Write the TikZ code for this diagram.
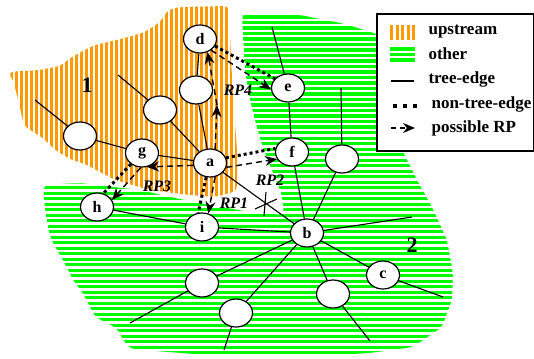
\documentclass[tikz,border=0pt]{standalone}
\usepackage{fontspec}
\setmainfont{Liberation Serif}
\usetikzlibrary{shapes.geometric,arrows.meta}
\definecolor{upcol}{RGB}{255,153,0}
\definecolor{othercol}{RGB}{0,250,0}
\tikzset{every picture/.style={line width=1.1pt}}
\tikzset{
  vertex/.style={ellipse,draw,line width=1.2pt,fill=white,minimum width=33pt,minimum height=28pt,inner sep=0pt,font=\fontsize{16}{16}\selectfont\bfseries},
  tree/.style={line width=1.1pt},
  nontree/.style={line width=3pt,dash pattern=on 3pt off 3pt},
  rp/.style={line width=1.4pt,dash pattern=on 6pt off 4pt,-{Stealth[length=12pt,width=10pt]}},
  rplabel/.style={font=\fontsize{16}{16}\selectfont\bfseries\itshape},
  region/.style={font=\fontsize{22}{22}\selectfont\bfseries},
  legtext/.style={anchor=west,inner sep=0pt,font=\fontsize{17}{17}\selectfont\bfseries},
}

\begin{document}
\begin{tikzpicture}[x=1pt,y=-1pt]
    \useasboundingbox (0,0) rectangle (534,358);
    % upstream area
    \begin{scope}
        \clip[rounded corners=5pt] (8,72) -- (40,70) -- (60,66) -- (75,55) -- (95,45) -- (125,38) -- (145,32) -- (160,22) -- (168,10) -- (180,7) -- (229,6) -- (231,60) -- (234,110) -- (237,150) -- (237,191) -- (215,197) -- (190,195) -- (150,190) -- (115,180) -- (85,164) -- (72,160) -- (55,150) -- (43,138) -- (24,126) -- (19,103) -- (13,80) -- cycle;
        \foreach \x in {5,10,...,240} \fill[upcol] (\x,0) rectangle (\x+2.9,200);
    \end{scope}
    % other area
    \begin{scope}
        \clip[rounded corners=6pt] (242,13) -- (300,15) -- (345,24) -- (380,35) -- (395,100) -- (403,152) -- (417,180) -- (432,207) -- (447,240) -- (453,273) -- (452,300) -- (442,327) -- (413,347) -- (370,353) -- (300,357) -- (220,356) -- (130,349) -- (122,338) -- (117,328) -- (95,317) -- (90,307) -- (83,293) -- (73,280) -- (63,260) -- (57,250) -- (50,237) -- (45,210) -- (43,185) -- (80,183) -- (105,186) -- (140,190) -- (170,197) -- (210,205) -- (250,212) -- (284,215) -- (282,195) -- (272,170) -- (262,145) -- (255,120) -- (249,95) -- (245,70) -- (243,35) -- cycle;
        \foreach \y in {10,15.5,...,360} \fill[othercol] (30,\y) rectangle (470,\y+3.3);
    \end{scope}
    \node[region] (n1) at (87,85) {1};
    \node[region] (n2) at (412,245) {2};

    \node[vertex] (a) at (210,163) {a};
    \node[vertex] (b) at (307,233) {b};
    \node[vertex] (c) at (383,275) {c};
    \node[vertex] (d) at (200,39) {d};
    \node[vertex] (e) at (288,88) {e};
    \node[vertex] (f) at (292,152) {f};
    \node[vertex] (g) at (142,153) {g};
    \node[vertex] (h) at (97,207) {h};
    \node[vertex] (i) at (202,227) {i};
    \node[vertex] (ua1) at (160,110) {};
    \node[vertex] (ua2) at (196,90) {};
    \node[vertex] (ug) at (80,136) {};
    \node[vertex] (uf) at (342,159) {};
    \node[vertex] (ub1) at (333,294) {};
    \node[vertex] (ub2) at (202,283) {};
    \node[vertex] (ub3) at (236,313) {};
    \coordinate (t1) at (118,75);
    \coordinate (t2) at (35,100);
    \coordinate (t3) at (272,27);
    \coordinate (t4) at (341,88);
    \coordinate (t5) at (412,217);
    \coordinate (t6) at (443,297);
    \coordinate (t7) at (370,341);
    \coordinate (t8) at (130,323);
    \coordinate (t9) at (224,350);
    \coordinate (rpmid) at (217,105);
    \coordinate (cut) at (266,204);

    % tree edges
    \draw[tree] (a) -- (g);
    \draw[tree] (a) -- (ua1);
    \draw[tree] (a) -- (ua2);
    \draw[tree] (ua2) -- (d);
    \draw[tree] (ua1) -- (t1);
    \draw[tree] (ug) -- (g);
    \draw[tree] (ug) -- (t2);
    \draw[tree] (a) -- (b);
    \draw[tree] (e) -- (f);
    \draw[tree] (e) -- (t3);
    \draw[tree] (f) -- (b);
    \draw[tree] (uf) -- (t4);
    \draw[tree] (uf) -- (b);
    \draw[tree] (h) -- (i);
    \draw[tree] (i) -- (b);
    \draw[tree] (b) -- (t5);
    \draw[tree] (b) -- (c);
    \draw[tree] (c) -- (t6);
    \draw[tree] (b) -- (ub1);
    \draw[tree] (ub1) -- (t7);
    \draw[tree] (b) -- (ub2);
    \draw[tree] (ub2) -- (t8);
    \draw[tree] (b) -- (ub3);
    \draw[tree] (ub3) -- (t9);
    \draw[tree] (cut) ++(0,-12) -- ++(-2,24);
    \draw[tree] (cut) ++(-11,5) -- ++(22,-10);

    % non-tree edges
    \draw[nontree] (a.18) -- (f.168);
    \draw[nontree] (a.255) -- (i.105);
    \draw[nontree] (g.225) -- (h.65);
    \draw[nontree] (d.335) -- (e.145);

    % possible RPs
    \draw[rp] (a.290) -- (i.65);
    \draw[rp] (a.-15) -- (f.205);
    \draw[rp] (a.188) -- (g.290);
    \draw[rp] (g.265) -- (h.25);
    \draw[rp] (a.70) -- (rpmid);
    \draw[rp] (rpmid) -- (d.300);
    \draw[rp] (d.315) -- (e.185);
    \node[rplabel] (rp1) at (234,203) {RP1};
    \node[rplabel] (rp2) at (270,180) {RP2};
    \node[rplabel] (rp3) at (157,186) {RP3};
    \node[rplabel] (rp4) at (238,90) {RP4};

    % legend
    \draw[fill=white,line width=1.2pt] (377,14) rectangle (533.4,151);
    \foreach \x in {390,395.5,...,412} \fill[upcol] (\x,25) rectangle (\x+3,40);
    \foreach \y in {47.5,53,58.5} \fill[othercol] (390,\y) rectangle (415,\y+3.3);
    \coordinate (l1) at (391,81);
    \coordinate (l2) at (414,81);
    \coordinate (l3) at (393,106);
    \coordinate (l4) at (417,106);
    \coordinate (l5) at (391,128);
    \coordinate (l6) at (415,128);
    \draw[tree] (l1) -- (l2);
    \draw[line width=4pt,dash pattern=on 4pt off 6pt] (l3) -- (l4);
    \draw[rp,dash pattern=on 5pt off 4pt] (l5) -- (l6);
    \node[legtext] (lup) at (428,32) {upstream};
    \node[legtext] (loth) at (428,54) {other};
    \node[legtext] (ltree) at (428,79) {tree-edge};
    \node[legtext] (lnon) at (431,104) {non-tree-edge};
    \node[legtext] (lrp) at (431,128) {possible RP};
\end{tikzpicture}
\end{document}
